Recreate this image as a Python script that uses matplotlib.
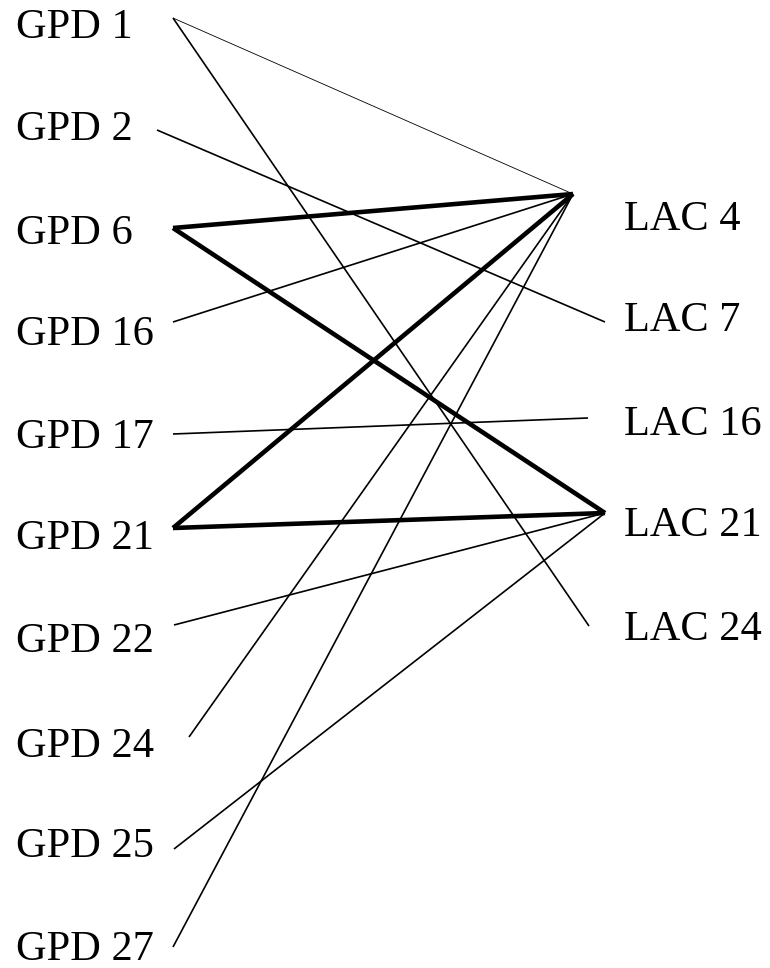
import matplotlib
matplotlib.use('Agg')
import matplotlib.pyplot as plt

# ── Node layout (positions on a 770 x 968 canvas) ─────────────

gpd_labels = ['GPD 1', 'GPD 2', 'GPD 6', 'GPD 16', 'GPD 17',
              'GPD 21', 'GPD 22', 'GPD 24', 'GPD 25', 'GPD 27']
gpd_text_y = [38, 140, 244, 345, 448, 549, 652, 757, 857, 960]
gpd_end_x = [173, 157, 173, 173, 173, 173, 174, 189, 174, 173]
gpd_end_y = [18, 130, 228, 322, 434, 528, 625, 737, 849, 947]

lac_labels = ['LAC 4', 'LAC 7', 'LAC 16', 'LAC 21', 'LAC 24']
lac_text_y = [230, 331, 435, 536, 640]
lac_end_x = [573, 605, 588, 605, 589]
lac_end_y = [194, 322, 418, 513, 626]

# ── Links: (gpd, lac, strength) ───────────────────────────────

links_gpd = ['GPD 1', 'GPD 1', 'GPD 2', 'GPD 6', 'GPD 6', 'GPD 16', 'GPD 17',
             'GPD 21', 'GPD 21', 'GPD 22', 'GPD 24', 'GPD 25', 'GPD 27']
links_lac = ['LAC 4', 'LAC 24', 'LAC 7', 'LAC 4', 'LAC 21', 'LAC 4', 'LAC 16',
             'LAC 4', 'LAC 21', 'LAC 21', 'LAC 4', 'LAC 21', 'LAC 4']
links_kind = ['weak', 'normal', 'normal', 'strong', 'strong', 'normal', 'normal',
              'strong', 'strong', 'normal', 'normal', 'normal', 'normal']

widths = {'weak': 0.6, 'normal': 1.2, 'strong': 3.3}

W, H = 770, 968
fig = plt.figure(figsize=(W / 100, H / 100), dpi=100)
ax = fig.add_axes([0, 0, 1, 1])
ax.set_xlim(0, W)
ax.set_ylim(H, 0)
ax.axis('off')

gpd_pos = {l: (x, y) for l, x, y in zip(gpd_labels, gpd_end_x, gpd_end_y)}
lac_pos = {l: (x, y) for l, x, y in zip(lac_labels, lac_end_x, lac_end_y)}

for g, l, k in zip(links_gpd, links_lac, links_kind):
    x0, y0 = gpd_pos[g]
    x1, y1 = lac_pos[l]
    ax.plot([x0, x1], [y0, y1], color='black', lw=widths[k],
            solid_capstyle='butt', solid_joinstyle='miter')

font = dict(family='Liberation Serif', fontsize=30.5, va='baseline', ha='left')
for lab, y in zip(gpd_labels, gpd_text_y):
    ax.text(16, y, lab, **font)
for lab, y in zip(lac_labels, lac_text_y):
    ax.text(624, y, lab, **font)

fig.savefig('out.png', dpi=100, facecolor='white')
plt.close()
